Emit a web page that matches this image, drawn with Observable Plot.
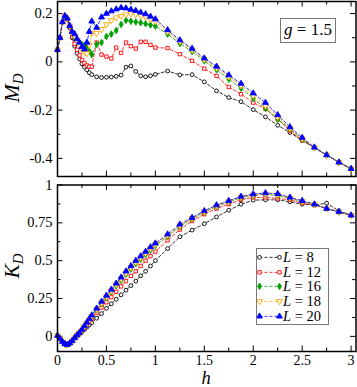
<!DOCTYPE html>
<html><head><meta charset="utf-8">
<script src="https://cdn.jsdelivr.net/npm/d3@7"></script>
<script src="https://cdn.jsdelivr.net/npm/@observablehq/plot@0.6"></script>
<style>
body{margin:0;background:#fff;}
#chart{position:relative;width:357px;height:387px;font-family:"Liberation Serif","Times New Roman",serif;}
#chart svg{display:block;}
.box{position:absolute;box-sizing:border-box;border:1.5px solid #777;background:#fff;}
.row{display:flex;align-items:center;height:14.7px;font-size:14.5px;line-height:14.7px;white-space:nowrap;}
.row svg{display:block;}
</style></head><body><div id="chart"></div>
<script>
// ---- data ----
const h = [0,0.025,0.05,0.075,0.1,0.125,0.15,0.175,0.2,0.225,0.25,0.275,0.3,0.325,0.35,
  0.4,0.45,0.5,0.55,0.6,0.65,0.7,0.75,0.8,0.85,0.9,0.95,1.0,
  1.125,1.25,1.375,1.5,1.625,1.75,1.875,2.0,2.125,2.25,2.375,2.5,2.625,2.75,2.875,3.0];
const sizes = [8,12,16,18,20];

const M8 = [0.05,0.10,0.165,0.19,0.175,0.14,0.10,0.065,0.035,0.012,-0.008,-0.022,-0.033,-0.045,-0.053,
  -0.062,-0.065,-0.064,-0.063,-0.060,-0.055,-0.022,-0.017,-0.040,-0.058,-0.062,-0.058,-0.052,
  -0.038,-0.054,-0.053,-0.083,-0.120,-0.148,-0.165,-0.198,-0.228,-0.263,-0.293,-0.325,-0.356,-0.386,-0.416,-0.443];
const M12 = [0.05,0.10,0.165,0.19,0.175,0.145,0.105,0.075,0.05,0.027,0.008,-0.005,-0.015,-0.02,-0.02,
  0.08,0.03,0.022,0.014,0.059,0.037,0.08,0.065,0.055,0.083,0.083,0.07,0.059,
  0.057,0.032,0.004,-0.028,-0.058,-0.104,-0.134,-0.169,-0.195,-0.238,-0.286,-0.326,-0.356,-0.386,-0.416,-0.443];
const M16 = [0.05,0.10,0.165,0.19,0.178,0.15,0.12,0.10,0.088,0.078,0.072,0.068,0.06,0.045,0.03,
  0.072,0.08,0.105,0.115,0.13,0.155,0.172,0.168,0.165,0.162,0.158,0.153,0.148,
  0.115,0.076,0.043,0.004,-0.033,-0.072,-0.109,-0.151,-0.193,-0.238,-0.279,-0.322,-0.356,-0.386,-0.416,-0.443];
const M18 = [0.05,0.10,0.165,0.19,0.178,0.15,0.12,0.108,0.09,0.07,0.05,0.04,0.035,0.07,0.12,
  0.118,0.135,0.155,0.172,0.183,0.19,0.196,0.2,0.197,0.19,0.185,0.178,0.168,
  0.125,0.085,0.05,0.01,-0.025,-0.062,-0.098,-0.14,-0.182,-0.228,-0.275,-0.318,-0.355,-0.386,-0.416,-0.443];
const M20 = [0.05,0.10,0.165,0.19,0.18,0.15,0.125,0.115,0.095,0.08,0.062,0.052,0.08,0.125,0.168,
  0.142,0.185,0.2,0.21,0.218,0.224,0.222,0.217,0.212,0.205,0.198,0.188,0.177,
  0.132,0.09,0.055,0.015,-0.019,-0.055,-0.09,-0.13,-0.169,-0.22,-0.27,-0.314,-0.354,-0.386,-0.416,-0.443];

const K8 = [0.005,-0.015,-0.035,-0.05,-0.055,-0.045,-0.03,-0.012,0.003,0.015,0.03,0.045,0.06,0.075,0.09,
  0.12,0.15,0.185,0.215,0.245,0.275,0.305,0.335,0.365,0.4,0.43,0.465,0.5,
  0.58,0.658,0.702,0.744,0.789,0.833,0.873,0.9,0.902,0.902,0.889,0.873,0.868,0.88,0.829,0.8];
const K12 = [0.005,-0.015,-0.035,-0.05,-0.055,-0.045,-0.03,-0.012,0.005,0.02,0.035,0.055,0.075,0.095,0.115,
  0.155,0.19,0.225,0.26,0.295,0.33,0.365,0.4,0.43,0.465,0.5,0.53,0.56,
  0.635,0.705,0.762,0.807,0.844,0.873,0.902,0.918,0.918,0.911,0.902,0.88,0.867,0.844,0.82,0.8];
const K16 = [0.005,-0.015,-0.035,-0.05,-0.055,-0.045,-0.03,-0.01,0.008,0.022,0.04,0.062,0.085,0.108,0.13,
  0.175,0.215,0.255,0.295,0.335,0.37,0.41,0.445,0.48,0.51,0.54,0.57,0.6,
  0.66,0.725,0.775,0.82,0.858,0.888,0.915,0.932,0.938,0.93,0.912,0.89,0.87,0.845,0.822,0.8];
const K18 = [0.005,-0.015,-0.035,-0.05,-0.055,-0.045,-0.028,-0.008,0.01,0.025,0.042,0.065,0.088,0.112,0.135,
  0.18,0.222,0.262,0.302,0.342,0.38,0.418,0.455,0.49,0.52,0.55,0.58,0.608,
  0.668,0.732,0.78,0.825,0.862,0.892,0.92,0.936,0.942,0.936,0.915,0.893,0.872,0.845,0.823,0.8];
const K20 = [0.005,-0.015,-0.035,-0.05,-0.055,-0.045,-0.03,-0.01,0.008,0.025,0.045,0.068,0.092,0.116,0.14,
  0.185,0.23,0.27,0.31,0.35,0.39,0.43,0.465,0.5,0.53,0.56,0.59,0.615,
  0.675,0.74,0.784,0.829,0.867,0.896,0.924,0.94,0.947,0.942,0.918,0.896,0.873,0.844,0.824,0.8];

const xMajor = [0,0.5,1,1.5,2,2.5,3];
const xMinor = [0.25,0.75,1.25,1.75,2.25,2.75];
const mMajor = [-0.4,-0.2,0,0.2];
const mMinor = [-0.3,-0.1,0.1];
const kMajor = [0,0.25,0.5,0.75,1];
const kMinor = [0.125,0.375,0.625,0.875];
const gLabel = "1.5";

// ---- styles ----
const colors = ["#000000","#ff0000","#00a000","#ffa500","#0000ff"];
const triangleDown = {draw(ctx, size){ const y = -Math.sqrt(size/(Math.sqrt(3)*3)); const s3 = Math.sqrt(3);
  ctx.moveTo(0,-y*2); ctx.lineTo(-s3*y, y); ctx.lineTo(s3*y, y); ctx.closePath(); }};
const symbols = ["circle","square","diamond",triangleDown,"triangle"];
const d3symbols = [d3.symbolCircle,d3.symbolSquare,d3.symbolDiamond,triangleDown,d3.symbolTriangle];
const fills = ["#fff","#fff","#00a000","#fff","#0000ff"];
const radii = [1.9,1.9,2.0,2.2,2.2];

const W = 357, ML = 57, MR = 1.5;
const fw = W - ML - MR;
const fmt = d => String(d);
const FONT = '"Liberation Serif","Times New Roman",serif';

function seriesMarks(arrs){
  const marks = [];
  arrs.forEach((arr, i) => {
    const rows = h.map((hv, j) => ({h: hv, v: arr[j], L: sizes[i]}));
    marks.push(Plot.line(rows, {x:"h", y:"v", stroke: colors[i], strokeWidth: 0.8, strokeDasharray: "3,2"}));
    marks.push(Plot.dot(rows, {x:"h", y:"v", symbol: symbols[i], r: radii[i], stroke: colors[i], fill: fills[i], strokeWidth: 0.9}));
  });
  return marks;
}
function tickMarks(yMaj, yMin, fh){
  const Lg = 5.5, Sm = 3.5, st = {stroke:"#000", strokeWidth: 1};
  return [
    Plot.tickX(xMajor, {x: d=>d, insetTop: fh-Lg, ...st}),
    Plot.tickX(xMajor, {x: d=>d, insetBottom: fh-Lg, ...st}),
    Plot.tickX(xMinor, {x: d=>d, insetTop: fh-Sm, ...st}),
    Plot.tickX(xMinor, {x: d=>d, insetBottom: fh-Sm, ...st}),
    Plot.tickY(yMaj, {y: d=>d, insetRight: fw-Lg, ...st}),
    Plot.tickY(yMaj, {y: d=>d, insetLeft: fw-Lg, ...st}),
    Plot.tickY(yMin, {y: d=>d, insetRight: fw-Sm, ...st}),
    Plot.tickY(yMin, {y: d=>d, insetLeft: fw-Sm, ...st})
  ];
}
const baseStyle = {fontFamily: FONT, fontSize: "14.5px", background: "#fff", overflow: "visible", color: "#000"};

const topH = 180, topMT = 1, topMB = 4;
const topPlot = Plot.plot({
  width: W, height: topH, marginLeft: ML, marginRight: MR, marginTop: topMT, marginBottom: topMB,
  x: {domain: [0, 3.05], axis: null},
  y: {domain: [-0.475, 0.25], axis: null},
  style: baseStyle,
  marks: [
    Plot.axisY({ticks: mMajor, tickSize: 0, tickPadding: 5, tickFormat: fmt, label: null}),
    ...tickMarks(mMajor, mMinor, topH - topMT - topMB),
    ...seriesMarks([M8, M12, M16, M18, M20]),
    Plot.frame({stroke: "#000", strokeWidth: 1.5})
  ]
});

const botH = 207, botMT = 4.5, botMB = 36;
const botPlot = Plot.plot({
  width: W, height: botH, marginLeft: ML, marginRight: MR, marginTop: botMT, marginBottom: botMB,
  x: {domain: [0, 3.05], axis: null},
  y: {domain: [-0.1, 1.0], axis: null},
  style: baseStyle,
  marks: [
    Plot.axisY({ticks: kMajor, tickSize: 0, tickPadding: 5, tickFormat: fmt, label: null}),
    Plot.axisX({ticks: xMajor, tickSize: 0, tickPadding: 3.5, tickFormat: fmt, label: null, fontSize: 14}),
    ...tickMarks(kMajor, kMinor, botH - botMT - botMB),
    ...seriesMarks([K8, K12, K16, K18, K20]),
    Plot.frame({stroke: "#000", strokeWidth: 1.5})
  ]
});

const chart = document.getElementById("chart");
chart.appendChild(topPlot);
chart.appendChild(botPlot);

// axis titles with subscripts
function yTitle(svg, main, x, y, fs){
  const t = d3.select(svg).append("text")
    .attr("transform", `translate(${x},${y}) rotate(-90)`)
    .attr("text-anchor", "middle")
    .attr("font-family", FONT)
    .attr("font-style", "italic").attr("fill", "#000");
  t.append("tspan").attr("font-size", fs).text(main);
  t.append("tspan").attr("font-size", 15).attr("dy", 4).text("D");
}
yTitle(topPlot, "M", 18.5, 88, 22);
yTitle(botPlot, "K", 18.5, 86, 21.5);
d3.select(botPlot).append("text")
  .attr("x", 206).attr("y", 204.2).attr("text-anchor", "middle")
  .attr("font-family", FONT)
  .attr("font-style", "italic").attr("font-size", 18.5).attr("fill", "#000").text("h");

// g box
const gbox = document.createElement("div");
gbox.className = "box";
Object.assign(gbox.style, {left: "280px", top: "17.5px", width: "56px", height: "25.5px",
  fontSize: "17px", lineHeight: "22.5px", textAlign: "center"});
gbox.innerHTML = `<i>g</i> = ${gLabel}`;
chart.appendChild(gbox);

// legend
const leg = document.createElement("div");
leg.className = "box";
Object.assign(leg.style, {left: "256px", top: "247.5px", width: "72.5px", height: "77.5px", paddingTop: "1.5px"});
sizes.forEach((L, i) => {
  const row = document.createElement("div");
  row.className = "row";
  const s = d3.create("svg").attr("width", 26).attr("height", 14.7);
  s.append("line").attr("x1", 2.5).attr("x2", 22.5).attr("y1", 7.35).attr("y2", 7.35)
    .attr("stroke", colors[i]).attr("stroke-width", 0.8).attr("stroke-dasharray", "3,2");
  const sym = d3.symbol(d3symbols[i], Math.PI * radii[i] * radii[i])();
  [2.5, 22.5].forEach(px => s.append("path").attr("d", sym)
    .attr("transform", `translate(${px},7.35)`)
    .attr("fill", fills[i]).attr("stroke", colors[i]).attr("stroke-width", 0.9));
  row.appendChild(s.node());
  const txt = document.createElement("span");
  txt.innerHTML = `<i>L</i> = ${L}`;
  row.appendChild(txt);
  leg.appendChild(row);
});
chart.appendChild(leg);
</script>
</body></html>
